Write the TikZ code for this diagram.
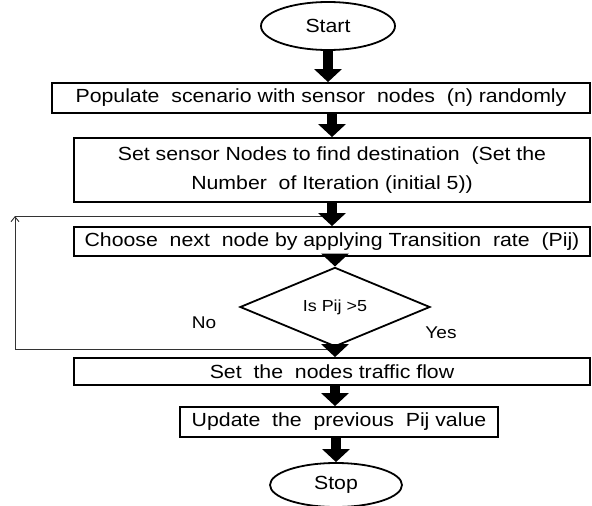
\documentclass[tikz,border=0pt]{standalone}
\usepackage{fontspec}
\setmainfont{Liberation Sans}[FakeStretch=1.12]
\usetikzlibrary{arrows.meta, shapes.geometric}

\begin{document}
\begin{tikzpicture}[
        x=1pt, y=-1pt,
        caja/.style={
            draw,
            line width=1.8pt,
            inner sep=0pt,
            minimum height=30pt,
            font=\fontsize{19}{29}\selectfont
        },
        terminal/.style={
            ellipse,
            draw,
            line width=1.8pt,
            minimum width=134pt,
            minimum height=48pt,
            font=\fontsize{19}{23}\selectfont
        },
        decision/.style={
            diamond,
            draw,
            line width=1.8pt,
            inner sep=0pt,
            minimum width=190pt,
            minimum height=60pt,
            font=\fontsize{16}{19}\selectfont
        },
        flecha/.style={
            line width=10pt,
            -{Triangle[length=13pt, width=27pt]}
        },
        retorno/.style={line width=0.9pt, draw=black!80}
    ]
    \useasboundingbox (0,0) rectangle (592,506);

    \node[terminal] (inicio) at (328,26) {Start};
    \node[caja, minimum width=538pt] (poblar) at (321,98)
        {Populate\ \ scenario with sensor\ \ nodes\ \ (n) randomly};
    \node[caja, minimum width=516pt, minimum height=64pt, align=center] (fijar) at (332,170)
        {Set sensor Nodes to find destination\ \ (Set the\\ Number\ \ of Iteration (initial 5))};
    \node[caja, minimum width=516pt, minimum height=29pt] (elegir) at (332,241.5)
        {Choose\ \ next\ \ node by applying Transition\ \ rate\ \ (Pij)};
    \node[decision] (prueba) at (335,307) {Is Pij >5};
    \node[caja, minimum width=516pt, minimum height=27pt] (flujo) at (332,371.5)
        {Set\ \ the\ \ nodes traffic flow};
    \node[caja, minimum width=318pt] (actualizar) at (339,422)
        {Update\ \ the\ \ previous\ \ Pij value};
    \node[terminal, minimum width=132pt, minimum height=44pt] (fin) at (336,485) {Stop};

    \node[font=\fontsize{17}{20}\selectfont] (no) at (204,323) {No};
    \node[font=\fontsize{17}{20}\selectfont] (si) at (441,333) {Yes};

    % lazo de vuelta
    \coordinate (salida) at (332,349);
    \coordinate (esquina) at (15,216);
    \coordinate (entrada) at (332,216);
    \draw[retorno, -{Straight Barb[length=5pt, width=8pt]}] (salida) -| (esquina);
    \draw[retorno] (esquina) -- (entrada);

    \draw[flecha] (inicio.south) -- (inicio.south |- poblar.north);
    \draw[flecha] (fijar.north |- poblar.south) -- (fijar.north);
    \draw[flecha] (fijar.south) -- (elegir.north);
    \draw[flecha] (prueba.north |- elegir.south) -- (prueba.north);
    \draw[flecha] (prueba.south) -- (prueba.south |- flujo.north);
    \draw[flecha] (flujo.south -| prueba.south) -- (prueba.south |- actualizar.north);
    \draw[flecha] (fin.north |- actualizar.south) -- (fin.north);
\end{tikzpicture}
\end{document}
